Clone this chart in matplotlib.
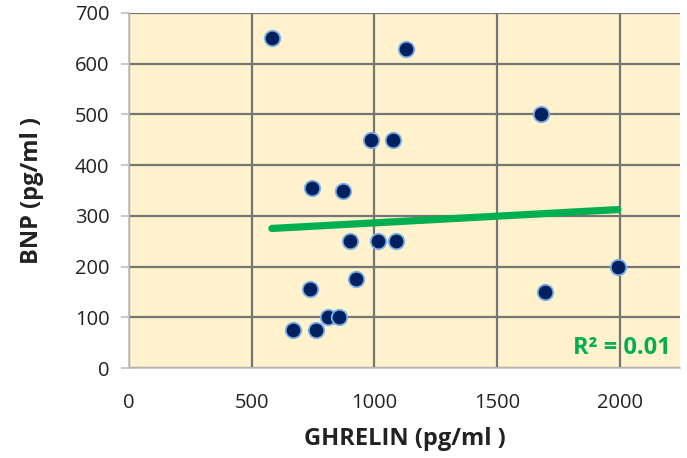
import numpy as np
import matplotlib
matplotlib.use("Agg")
import matplotlib.pyplot as plt

ghrelin = [582, 1128, 986, 1075, 1678, 745, 872, 900, 1014, 1088, 925, 737, 811, 855, 668, 762, 1694, 1992]
bnp = [650, 630, 450, 450, 500, 355, 350, 250, 250, 250, 175, 155, 100, 100, 75, 75, 150, 200]
xticks = [0, 500, 1000, 1500, 2000]
yticks = [0, 100, 200, 300, 400, 500, 600, 700]
r2_label = 'R² = 0.01'

plt.rcParams['font.family'] = ['Open Sans', 'DejaVu Sans']

fig = plt.figure(figsize=(6.87, 4.58), dpi=100)
ax = fig.add_axes([129/687, 90/458, (680-129)/687, (368-13)/458])
ax.set_facecolor('#FFF2CC')

x = np.array(ghrelin, dtype=float)
y = np.array(bnp, dtype=float)
slope, intercept = np.polyfit(x, y, 1)
xs = np.array([x.min(), x.max()])
ax.plot(xs, slope * xs + intercept, color='#00B050', lw=5.2, solid_capstyle='round', zorder=3)

ax.scatter(x, y, s=125, color='#002060', edgecolors='#7FB2E5', linewidths=1.3, zorder=4)

ax.set_xlim(0, 2245)
ax.set_ylim(0, 700)
ax.set_xticks(xticks)
ax.set_yticks(yticks)
ax.grid(True, color='#767676', lw=1.6)
ax.set_axisbelow(True)
for s in ['top', 'right']:
    ax.spines[s].set_visible(False)
for s in ['left', 'bottom']:
    ax.spines[s].set_color('#BFBFBF')
    ax.spines[s].set_linewidth(1.2)
ax.tick_params(axis='y', length=6, color='#BFBFBF', width=1.2, labelsize=14.5, labelcolor='#222222', pad=8)
ax.tick_params(axis='x', length=0, labelsize=14.5, labelcolor='#222222', pad=18)

ax.set_xlabel('GHRELIN (pg/ml )', fontsize=17, fontweight='bold', color='#222222', labelpad=10)
ax.set_ylabel('BNP (pg/ml )', fontsize=17, fontweight='bold', color='#222222', labelpad=22)

ax.text(0.983, 0.055, r2_label, transform=ax.transAxes, ha='right', va='center',
        fontsize=17, fontweight='bold', color='#00B050')

fig.savefig('out.png', dpi=100)
